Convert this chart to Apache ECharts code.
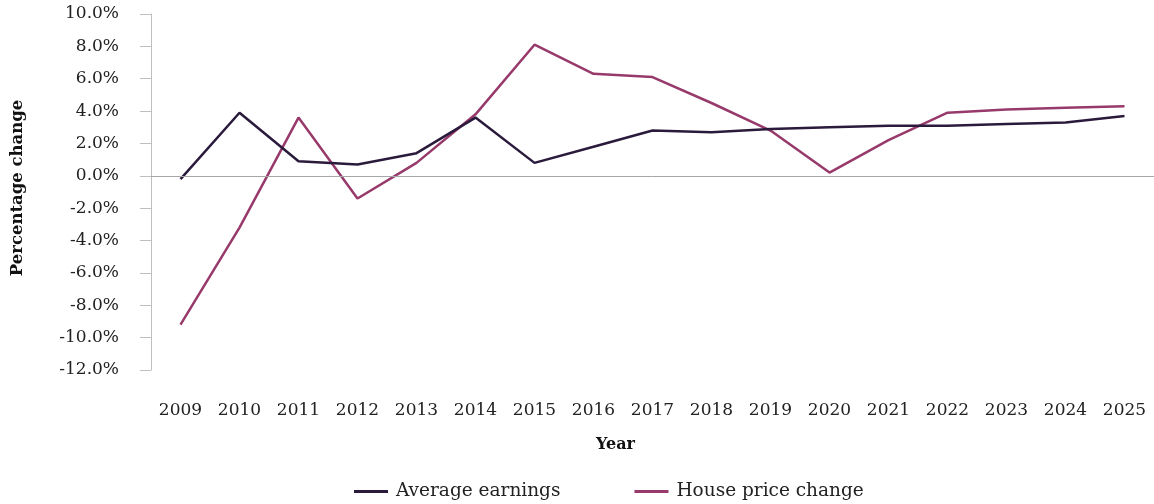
<!DOCTYPE html>
<html>
<head>
<meta charset="utf-8">
<script src="https://cdn.jsdelivr.net/npm/echarts@6/dist/echarts.min.js"></script>
<style>
	html, body { margin: 0; padding: 0; background: #fff; }
	#chart { width: 1154px; height: 504px; }
</style>
</head>
<body>
<div id="chart"></div>
<script>
// years on the x axis
var years = ['2009', '2010', '2011', '2012', '2013', '2014', '2015', '2016', '2017',
	'2018', '2019', '2020', '2021', '2022', '2023', '2024', '2025'];
// percentage change
var avgEarnings = [-0.2, 3.9, 0.9, 0.7, 1.4, 3.6, 0.8, 1.8, 2.8, 2.7, 2.9, 3.0, 3.1, 3.1, 3.2, 3.3, 3.7];
var housePrice = [-9.2, -3.2, 3.6, -1.4, 0.8, 3.8, 8.1, 6.3, 6.1, 4.5, 2.8, 0.2, 2.2, 3.9, 4.1, 4.2, 4.3];

var font = 'DejaVu Serif';

function initChart() {
	var chart = echarts.init(document.getElementById('chart'));
	chart.setOption({
		animation : false,
		textStyle : { fontFamily : font },
		grid : { left : 151, right : 0, top : 14, bottom : 134 },
		legend : {
			left : 349,
			top : 477,
			icon : 'rect',
			itemWidth : 34,
			itemHeight : 3,
			itemGap : 74,
			textStyle : { fontFamily : font, fontSize : 18.5, color : '#222', padding : [0, 0, 0, 3] },
			data : ['Average earnings', 'House price change']
		},
		xAxis : {
			type : 'category',
			data : years,
			name : 'Year',
			nameLocation : 'middle',
			nameGap : 67,
			nameTextStyle : { fontFamily : font, fontSize : 16, fontWeight : 'bold', color : '#111', padding : [0, 74, 0, 0] },
			axisLine : { show : false },
			axisTick : { show : false },
			axisLabel : { margin : 32, fontFamily : font, fontSize : 17, color : '#222' }
		},
		yAxis : {
			type : 'value',
			min : -12,
			max : 10,
			interval : 2,
			name : 'Percentage change',
			nameLocation : 'middle',
			nameGap : 125,
			nameTextStyle : { fontFamily : font, fontSize : 16.5, fontWeight : 'bold', color : '#111', padding : [0, 0, 0, 8] },
			axisLine : { show : true, lineStyle : { color : '#bfbfbf', width : 1 } },
			axisTick : { show : true, length : 11, lineStyle : { color : '#bfbfbf' } },
			splitLine : { show : false },
			axisLabel : {
				margin : 32,
				fontFamily : font,
				fontSize : 17,
				color : '#222',
				formatter : function(v) { return v.toFixed(1) + '%'; }
			}
		},
		series : [{
			name : 'Average earnings',
			type : 'line',
			data : avgEarnings,
			symbol : 'none',
			lineStyle : { color : '#2a1a3c', width : 2.5 },
			itemStyle : { color : '#2a1a3c' },
			z : 3,
			markLine : {
				silent : true,
				symbol : 'none',
				label : { show : false },
				lineStyle : { color : '#a6a6a6', width : 1, type : 'solid' },
				data : [{ yAxis : 0 }]
			}
		}, {
			name : 'House price change',
			type : 'line',
			data : housePrice,
			symbol : 'none',
			lineStyle : { color : '#973a6b', width : 2.5 },
			itemStyle : { color : '#973a6b' },
			z : 2
		}]
	});
}

initChart();
</script>
</body>
</html>
